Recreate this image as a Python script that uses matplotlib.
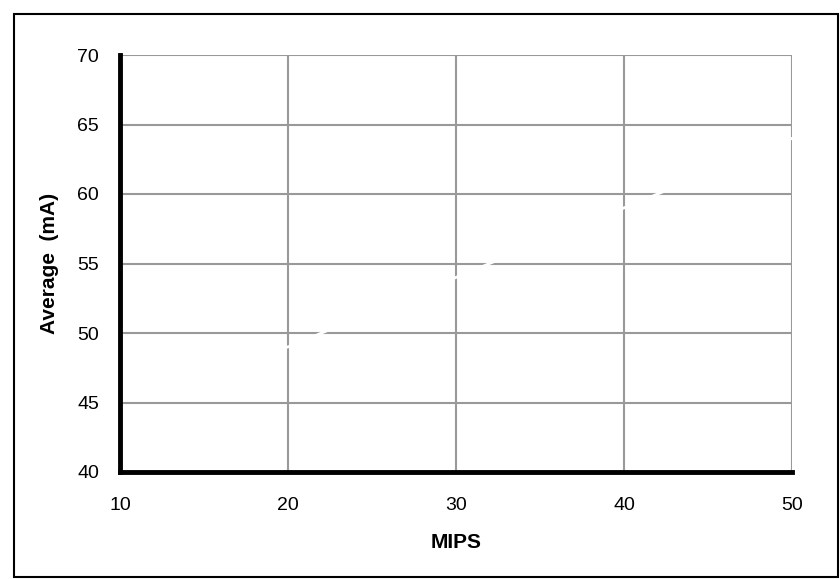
import matplotlib
matplotlib.use("Agg")
from matplotlib import pyplot as plt
import matplotlib.patches as patches

# data (the series line is drawn in white)
mips = [10, 20, 30, 40, 50]
avg_ma = [46, 49, 54, 59, 64]
x_ticks = [10, 20, 30, 40, 50]
y_ticks = [40, 45, 50, 55, 60, 65, 70]

plt.rcParams['font.family'] = ['Liberation Sans', 'DejaVu Sans']

fig = plt.figure(figsize=(8.4, 5.79), dpi=100)
ax = fig.add_axes([120 / 840, 1 - 472 / 579, 672 / 840, 417 / 579])

ax.set_xlim(10, 50)
ax.set_ylim(40, 70)
ax.set_xticks(x_ticks)
ax.set_yticks(y_ticks)
ax.grid(True, color='#999999', linewidth=1.5)
ax.set_axisbelow(True)

ax.plot(mips, avg_ma, color='white', linewidth=2, clip_on=False, zorder=3)

for s in ['top', 'right']:
    ax.spines[s].set_visible(False)
for s in ['left', 'bottom']:
    ax.spines[s].set_linewidth(3.5)
    ax.spines[s].set_color('black')
    ax.spines[s].set_zorder(4)

ax.tick_params(length=0, labelsize=14)
ax.tick_params(axis='y', pad=15)
ax.tick_params(axis='x', pad=18)

ax.set_xlabel('MIPS', fontsize=15, fontweight='bold', labelpad=14)
ax.set_ylabel('Average  (mA)', fontsize=15, fontweight='bold', labelpad=13)

# outer frame around the whole chart
frame = patches.Rectangle((14 / 840, 2 / 579), 824 / 840, 563 / 579,
                          transform=fig.transFigure, fill=False,
                          edgecolor='black', linewidth=1.5)
fig.patches.append(frame)

fig.savefig('out.png', dpi=100)
